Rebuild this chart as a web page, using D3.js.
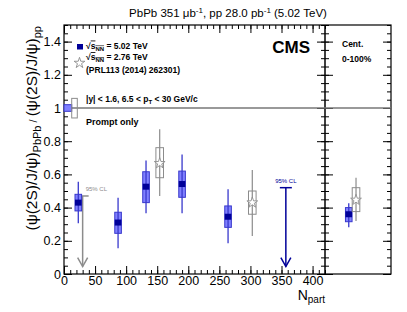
<!DOCTYPE html>
<html>
<head>
<meta charset="utf-8">
<script src="https://cdn.jsdelivr.net/npm/d3@7"></script>
<style>
  body { margin: 0; background: #fff; }
  svg { font-family: "Liberation Sans", Arial, sans-serif; }
</style>
</head>
<body>
<svg width="407" height="312"></svg>
<script>
// 5.02 TeV, centrality bins
const npart502 = [23, 87, 132, 190, 264];
const ratio502 = [0.43, 0.31, 0.526, 0.542, 0.345];
const statLo502 = [0.305, 0.155, 0.366, 0.366, 0.185];
const statHi502 = [0.556, 0.46, 0.683, 0.72, 0.51];
const systLo502 = [0.38, 0.245, 0.43, 0.462, 0.281];
const systHi502 = [0.48, 0.372, 0.616, 0.62, 0.41];

// 2.76 TeV (PRL113)
const npart276 = [154, 303];
const ratio276 = [0.667, 0.43];
const statLo276 = [0.47, 0.229];
const statHi276 = [0.872, 0.627];
const systLo276 = [0.58, 0.36];
const systHi276 = [0.761, 0.5];

// 95% CL upper limits
const limitNpart = [30, 357];
const limitValue = [0.47, 0.52];
const limitEnergy = ["2.76", "5.02"];

// centrality integrated 0-100%
const intEnergy = ["5.02", "2.76"];
const intRatio = [0.36, 0.446];
const intStatLo = [0.281, 0.32];
const intStatHi = [0.426, 0.58];
const intSystLo = [0.315, 0.376];
const intSystHi = [0.40, 0.52];

// pp reference uncertainty boxes at unity
const ppEnergy = ["5.02", "2.76"];
const ppLo = [0.98, 0.94];
const ppHi = [1.02, 1.058];
const ppNpartLo = [0, 12.4];
const ppNpartHi = [12.4, 21.4];

const yMajor = [0, 0.2, 0.4, 0.6, 0.8, 1.0, 1.2, 1.4];
const xMajor = [0, 50, 100, 150, 200, 250, 300, 350, 400];

const blueFill = "#8080ff", blueLine = "#3838cc", navy = "#000099", grey = "#8c8c8c";

const svg = d3.select("svg");
const mLeft = 64, mRight = 325, panelRight = 391, mTop = 25, mBottom = 274;

const x = d3.scaleLinear().domain([0, 420]).range([mLeft, mRight]);
const xInt = d3.scaleLinear().domain([0, 1]).range([mRight, panelRight]);
const y = d3.scaleLinear().domain([0, 1.5]).range([mBottom, mTop]);

const colorOf = e => e === "5.02" ? navy : grey;

// axes
const minorY = d3.range(0, 1.5001, 0.05);
const minorX = d3.range(0, 421, 10);

function styleAxis(g) {
  g.select(".domain").remove();
  g.selectAll(".tick line").attr("stroke", "#000").attr("stroke-width", 1);
}

svg.append("g").attr("transform", `translate(0,${mBottom})`)
  .call(d3.axisBottom(x).tickValues(minorX).tickSize(-4).tickFormat(""))
  .call(styleAxis);
svg.append("g").attr("transform", `translate(0,${mBottom})`)
  .call(d3.axisBottom(x).tickValues(xMajor).tickSize(-8).tickPadding(2).tickFormat(d3.format("d")))
  .call(styleAxis)
  .call(g => g.selectAll("text").attr("font-size", 12.5).attr("fill", "#000").attr("font-family", "Liberation Sans"));
svg.append("g").attr("transform", `translate(0,${mTop})`)
  .call(d3.axisTop(x).tickValues(minorX).tickSize(-4).tickFormat(""))
  .call(styleAxis);
svg.append("g").attr("transform", `translate(0,${mTop})`)
  .call(d3.axisTop(x).tickValues(xMajor).tickSize(-8).tickFormat(""))
  .call(styleAxis);

svg.append("g").attr("transform", `translate(${mLeft},0)`)
  .call(d3.axisLeft(y).tickValues(minorY).tickSize(-4).tickFormat(""))
  .call(styleAxis);
svg.append("g").attr("transform", `translate(${mLeft},0)`)
  .call(d3.axisLeft(y).tickValues(yMajor).tickSize(-8).tickPadding(3).tickFormat(d3.format("~g")))
  .call(styleAxis)
  .call(g => g.selectAll("text").attr("font-size", 12.5).attr("fill", "#000").attr("font-family", "Liberation Sans"));

// divider ticks (both sides) and right edge of integrated panel
[[mRight, 4, 8], [mRight, -4, -8], [panelRight, 4, 8]].forEach(([px, mn, mj]) => {
  svg.append("g").attr("transform", `translate(${px},0)`)
    .call(d3.axisLeft(y).tickValues(minorY).tickSize(mn).tickFormat(""))
    .call(styleAxis);
  svg.append("g").attr("transform", `translate(${px},0)`)
    .call(d3.axisLeft(y).tickValues(yMajor).tickSize(mj).tickFormat(""))
    .call(styleAxis);
});

// frames
svg.append("rect").attr("x", mLeft).attr("y", mTop).attr("width", panelRight - mLeft).attr("height", mBottom - mTop)
  .attr("fill", "none").attr("stroke", "#000").attr("stroke-width", 1.2);
svg.append("line").attr("x1", mRight).attr("x2", mRight).attr("y1", mTop).attr("y2", mBottom)
  .attr("stroke", "#000").attr("stroke-width", 1.5);

// unity line
svg.append("line").attr("x1", mLeft).attr("x2", panelRight).attr("y1", y(1)).attr("y2", y(1))
  .attr("stroke", "#777").attr("stroke-width", 1.5);

// pp uncertainty boxes
ppEnergy.forEach((e, i) => {
  svg.append("rect")
    .attr("x", x(ppNpartLo[i])).attr("width", x(ppNpartHi[i]) - x(ppNpartLo[i]))
    .attr("y", y(ppHi[i])).attr("height", y(ppLo[i]) - y(ppHi[i]))
    .attr("fill", e === "5.02" ? blueFill : "none")
    .attr("stroke", e === "5.02" ? blueLine : grey).attr("stroke-width", 1);
});

// 2.76 TeV points
const star = d3.symbol().type(d3.symbolStar).size(36);
function drawStar(cx, v, lo, hi, slo, shi) {
  svg.append("line").attr("x1", cx).attr("x2", cx).attr("y1", y(hi)).attr("y2", y(lo))
    .attr("stroke", grey).attr("stroke-width", 1.2);
  svg.append("rect").attr("x", cx - 3.8).attr("width", 7.6).attr("y", y(shi)).attr("height", y(slo) - y(shi))
    .attr("fill", "none").attr("stroke", grey).attr("stroke-width", 1);
  svg.append("path").attr("d", star).attr("transform", `translate(${cx},${y(v)})`)
    .attr("fill", "#fff").attr("stroke", grey).attr("stroke-width", 0.9);
}
npart276.forEach((n, i) => drawStar(x(n), ratio276[i], statLo276[i], statHi276[i], systLo276[i], systHi276[i]));

// upper limits
limitNpart.forEach((n, i) => {
  const c = colorOf(limitEnergy[i]);
  const cx = x(n), y0 = y(limitValue[i]), y1 = y(0.045);
  const g = svg.append("g").attr("stroke", c).attr("stroke-width", 1.5).attr("fill", "none");
  g.append("line").attr("x1", cx - 6).attr("x2", cx + 6).attr("y1", y0).attr("y2", y0);
  g.append("line").attr("x1", cx).attr("x2", cx).attr("y1", y0).attr("y2", y1);
  g.append("path").attr("d", `M${cx - 5},${y1 - 9}L${cx},${y1}L${cx + 5},${y1 - 9}`);
  svg.append("text").attr("x", limitEnergy[i] === "5.02" ? cx : cx + 3)
    .attr("y", y0 - 5).attr("text-anchor", limitEnergy[i] === "5.02" ? "middle" : "start")
    .attr("font-size", 6).attr("fill", c).text("95% CL");
});

// 5.02 TeV points
function drawBox(cx, v, lo, hi, slo, shi) {
  svg.append("rect").attr("x", cx - 3.3).attr("width", 6.6).attr("y", y(shi)).attr("height", y(slo) - y(shi))
    .attr("fill", blueFill).attr("stroke", blueLine).attr("stroke-width", 1);
  svg.append("line").attr("x1", cx).attr("x2", cx).attr("y1", y(hi)).attr("y2", y(lo))
    .attr("stroke", blueLine).attr("stroke-width", 1.3);
  svg.append("rect").attr("x", cx - 3.3).attr("width", 6.6).attr("y", y(v) - 3).attr("height", 6)
    .attr("fill", navy);
}
npart502.forEach((n, i) => drawBox(x(n), ratio502[i], statLo502[i], statHi502[i], systLo502[i], systHi502[i]));

// integrated panel
intEnergy.forEach((e, i) => {
  if (e === "5.02") drawBox(xInt(0.36), intRatio[i], intStatLo[i], intStatHi[i], intSystLo[i], intSystHi[i]);
  else drawStar(xInt(0.47), intRatio[i], intStatLo[i], intStatHi[i], intSystLo[i], intSystHi[i]);
});

// legend
svg.append("rect").attr("x", 77).attr("y", 44).attr("width", 6).attr("height", 5.5).attr("fill", navy);
svg.append("path").attr("d", star).attr("transform", "translate(79.5,63)")
  .attr("fill", "#fff").attr("stroke", grey).attr("stroke-width", 0.9);

function sqrtLabel(xp, yp, txt) {
  const t = svg.append("text").attr("x", xp).attr("y", yp).attr("font-size", 8.5).attr("font-weight", "bold");
  t.append("tspan").text("√");
  t.append("tspan").attr("text-decoration", "overline").text("s");
  t.append("tspan").attr("font-size", 6).attr("dy", 2).attr("text-decoration", "overline").text("NN");
  t.append("tspan").attr("dy", -2).text(txt);
}
sqrtLabel(86, 48.5, " = 5.02 TeV");
sqrtLabel(86, 60, " = 2.76 TeV");
svg.append("text").attr("x", 86).attr("y", 73).attr("font-size", 8.5).attr("font-weight", "bold")
  .text("(PRL113 (2014) 262301)");

const kin = svg.append("text").attr("x", 86).attr("y", 102).attr("font-size", 8.5).attr("font-weight", "bold");
kin.append("tspan").text("|y| < 1.6,  6.5 < p");
kin.append("tspan").attr("font-size", 6).attr("dy", 2).text("T");
kin.append("tspan").attr("dy", -2).text(" < 30 GeV/c");

svg.append("text").attr("x", 86).attr("y", 125).attr("font-size", 9).attr("font-weight", "bold").text("Prompt only");
svg.append("text").attr("x", 310).attr("y", 53).attr("text-anchor", "end")
  .attr("font-size", 17).attr("font-weight", "bold").text("CMS");
svg.append("text").attr("x", 342).attr("y", 47).attr("font-size", 8.5).attr("font-weight", "bold").text("Cent.");
svg.append("text").attr("x", 342).attr("y", 62).attr("font-size", 8.5).attr("font-weight", "bold").text("0-100%");

// title
const title = svg.append("text").attr("x", 228).attr("y", 17).attr("text-anchor", "middle").attr("font-size", 11.5);
title.append("tspan").text("PbPb 351 μb");
title.append("tspan").attr("font-size", 8).attr("dy", -4).text("-1");
title.append("tspan").attr("dy", 4).text(", pp 28.0 pb");
title.append("tspan").attr("font-size", 8).attr("dy", -4).text("-1");
title.append("tspan").attr("dy", 4).text(" (5.02 TeV)");

// x label, aligned to the end of the axis
const xl = svg.append("text").attr("x", mRight).attr("y", 300).attr("text-anchor", "end").attr("font-size", 14);
xl.append("tspan").text("N");
xl.append("tspan").attr("font-size", 10).attr("dy", 3).text("part");

// y label
const yl = svg.append("text").attr("transform", "translate(37,26) rotate(-90)").attr("text-anchor", "end").attr("font-size", 15.5);
yl.append("tspan").text("(ψ(2S)/J/ψ)");
yl.append("tspan").attr("font-size", 11).attr("dy", 4).text("PbPb");
yl.append("tspan").attr("dy", -4).attr("font-size", 11).text("  /  ");
yl.append("tspan").text("(ψ(2S)/J/ψ)");
yl.append("tspan").attr("font-size", 11).attr("dy", 4).text("pp");
</script>
</body>
</html>
